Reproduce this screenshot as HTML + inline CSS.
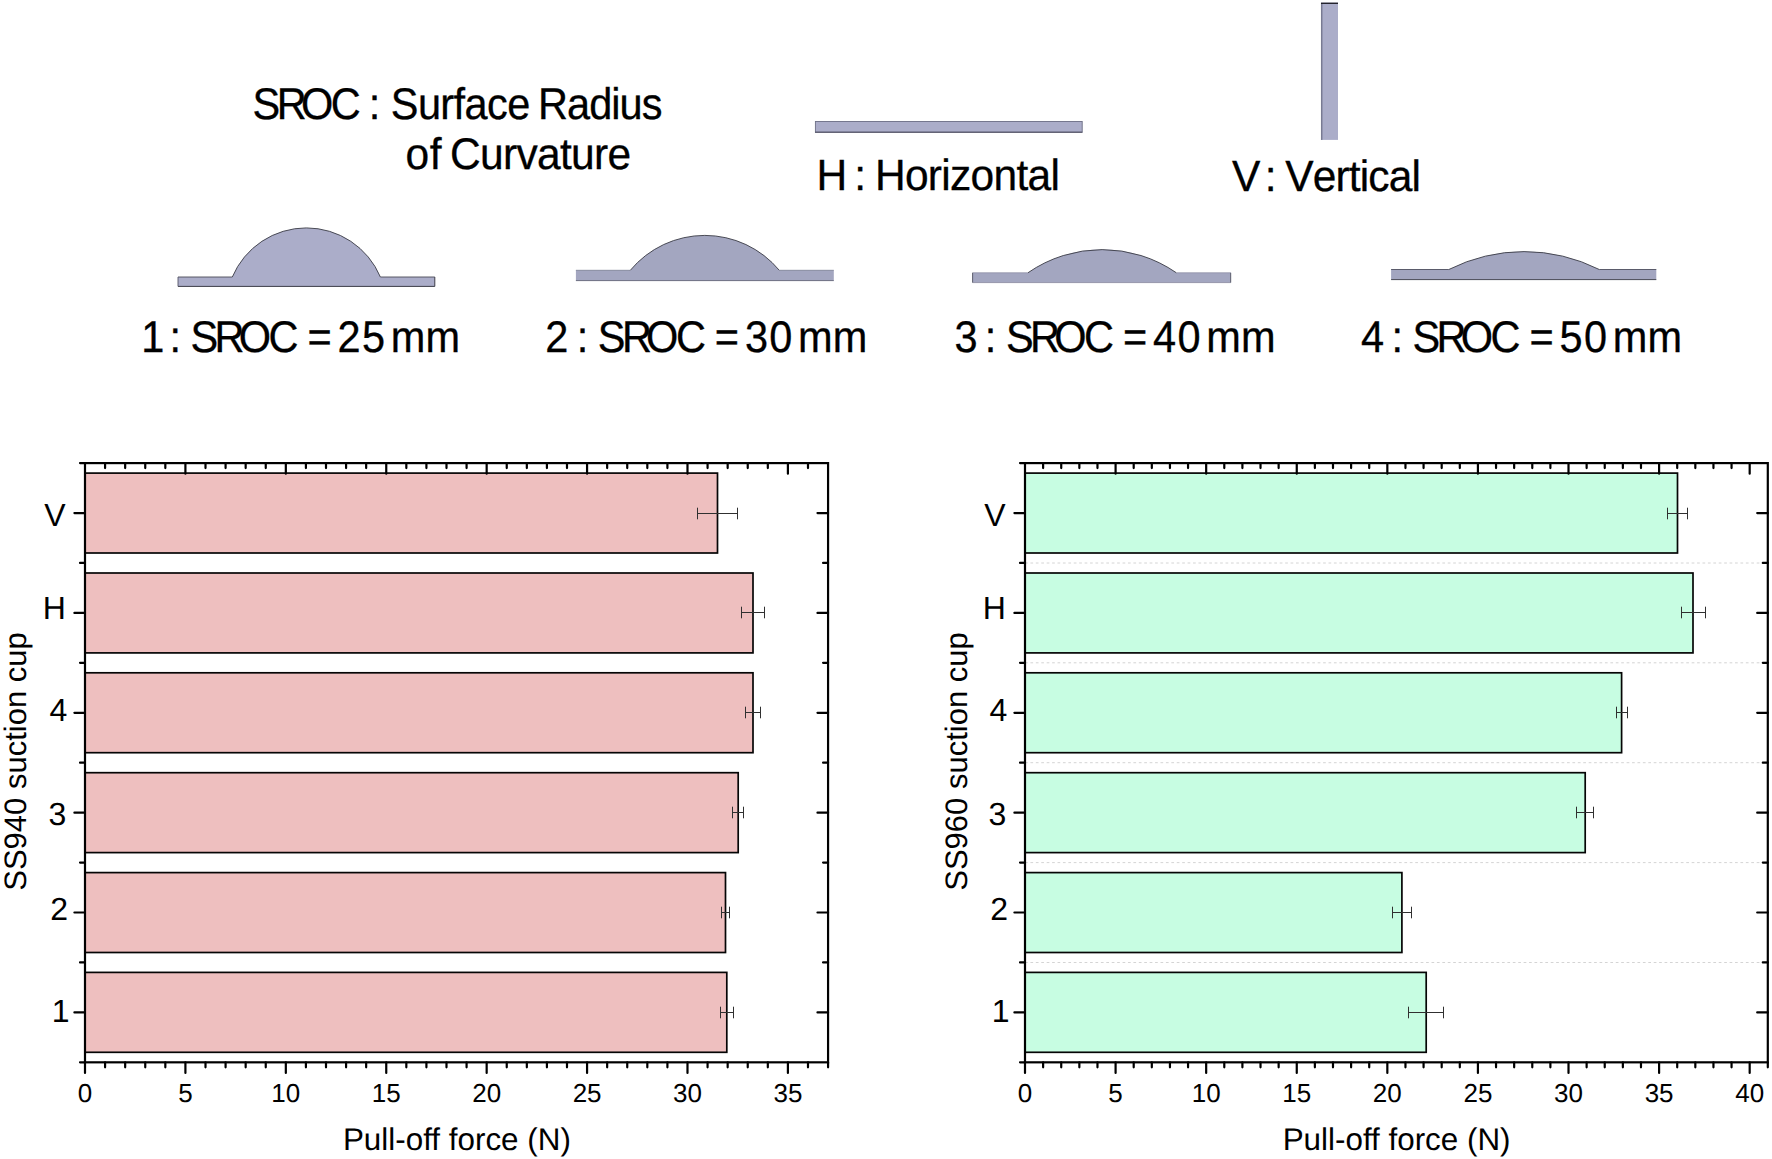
<!DOCTYPE html>
<html lang="en"><head><meta charset="utf-8"><title>Pull-off force of suction cups</title>
<style>
html,body{margin:0;padding:0;background:#fff;}
body{width:1772px;height:1159px;overflow:hidden;}
svg{display:block;}
text{font-family:"Liberation Sans", sans-serif;fill:#000;text-rendering:geometricPrecision;}
.ax{stroke:#000;stroke-width:2.2;fill:none;stroke-linecap:butt;}
.tk{stroke:#000;stroke-width:2.2;fill:none;stroke-linecap:round;}
.bar{stroke:#050505;stroke-width:1.7;}
.eb{stroke:#303030;stroke-width:1;fill:none;}
.gr{stroke:#cfcfcf;stroke-width:0.9;stroke-dasharray:2.7 2.72;fill:none;}
.sh{stroke:#454651;stroke-width:0.9;}
.top{font-kerning:none;white-space:pre;stroke:#000;stroke-width:0.3px;}
.yl{font-size:32px;text-anchor:end;}
.xl{font-size:26px;text-anchor:middle;}
.tt{font-size:31px;text-anchor:middle;}
</style></head><body>
<svg width="1772" height="1159" viewBox="0 0 1772 1159">
<rect x="0" y="0" width="1772" height="1159" fill="#ffffff"/>
<path d="M178.0 277.0 L232.3 277.0 A80.39 80.39 0 0 1 380.4 277.0 L434.8 277.0 L434.8 286.4 L178.0 286.4 Z" fill="#abadc9"/>
<path d="M232.3 277.0 A80.39 80.39 0 0 1 380.4 277.0" fill="none" stroke="#3a3b45" stroke-width="0.9"/>
<path d="M178.0 277.0 H232.3 M380.4 277.0 H434.8" fill="none" stroke="#4a4b58" stroke-width="0.9"/>
<path d="M178.0 286.4 H434.8" fill="none" stroke="#3c3d48" stroke-width="1.0"/>
<path d="M178.0 277.0 V286.4" fill="none" stroke="#55566a" stroke-width="0.9"/>
<path d="M434.8 277.0 V286.4" fill="none" stroke="#3c3d48" stroke-width="1.0"/>
<path d="M575.9 270.3 L630.3 270.3 A96.97 96.97 0 0 1 779.3 270.3 L833.8 270.3 L833.8 280.6 L575.9 280.6 Z" fill="#a3a6c0"/>
<path d="M630.3 270.3 A96.97 96.97 0 0 1 779.3 270.3" fill="none" stroke="#3a3b45" stroke-width="0.9"/>
<path d="M575.9 270.3 H630.3 M779.3 270.3 H833.8" fill="none" stroke="#7a7c92" stroke-width="0.8"/>
<path d="M575.9 280.6 H833.8" fill="none" stroke="#6c6e82" stroke-width="1.0"/>
<path d="M972.6 272.8 L1027.9 272.8 A130.42 130.42 0 0 1 1176.4 272.8 L1230.7 272.8 L1230.7 282.6 L972.6 282.6 Z" fill="#a3a6c0"/>
<path d="M1027.9 272.8 A130.42 130.42 0 0 1 1176.4 272.8" fill="none" stroke="#3a3b45" stroke-width="0.9"/>
<path d="M972.6 272.8 H1027.9 M1176.4 272.8 H1230.7" fill="none" stroke="#9092a7" stroke-width="0.8"/>
<path d="M972.6 282.6 H1230.7" fill="none" stroke="#85879c" stroke-width="0.8"/>
<path d="M972.6 272.8 V282.6" fill="none" stroke="#4e4f5e" stroke-width="0.9"/>
<path d="M1230.7 272.8 V282.6" fill="none" stroke="#4e4f5e" stroke-width="0.9"/>
<path d="M1391.1 269.5 L1448.8 269.5 A167.12 167.12 0 0 1 1599.3 269.5 L1656.3 269.5 L1656.3 279.6 L1391.1 279.6 Z" fill="#a3a6c0"/>
<path d="M1448.8 269.5 A167.12 167.12 0 0 1 1599.3 269.5" fill="none" stroke="#3a3b45" stroke-width="0.9"/>
<path d="M1391.1 269.5 H1448.8 M1599.3 269.5 H1656.3" fill="none" stroke="#5a5b6b" stroke-width="1.0"/>
<path d="M1391.1 279.6 H1656.3" fill="none" stroke="#474855" stroke-width="1.0"/>
<rect x="815.4" y="121.5" width="266.8" height="10.6" fill="#abadc9" stroke="#6c6e85" stroke-width="0.9"/>
<line x1="815.0" y1="132.2" x2="1082.4" y2="132.2" stroke="#4c4d5f" stroke-width="1.1"/>
<rect x="1321.0" y="2.6" width="17.0" height="137.3" fill="#abadc9"/>
<line x1="1321.7" y1="3" x2="1321.7" y2="139.9" stroke="#787a92" stroke-width="1.5"/>
<line x1="1321.0" y1="3.3" x2="1338.0" y2="3.3" stroke="#1c1c24" stroke-width="1.3"/>
<text class="top" transform="scale(1 1.0670)" style="font-size:41.5px" y="111.3"><tspan x="252.6 276.7 300.9 330.7">SROC</tspan> <tspan x="368.7">:</tspan> <tspan x="390.8" style="letter-spacing:-0.60px">Surface</tspan> <tspan x="538.0" style="letter-spacing:-0.96px">Radius</tspan></text>
<text class="top" transform="scale(1 1.0420)" style="font-size:42.5px" y="162.4"><tspan x="405.4" style="letter-spacing:0.78px">of</tspan> <tspan x="450.0" style="letter-spacing:-0.68px">Curvature</tspan></text>
<text class="top" transform="scale(1 1.0300)" style="font-size:42.5px" y="184.1"><tspan x="816.6">H</tspan> <tspan x="854.3">:</tspan> <tspan x="874.9" style="letter-spacing:-0.70px">Horizontal</tspan></text>
<text class="top" transform="scale(1 1.0300)" style="font-size:42.5px" y="185.3"><tspan x="1232.0">V</tspan> <tspan x="1264.7">:</tspan> <tspan x="1285.3" style="letter-spacing:-0.88px">Vertical</tspan></text>
<text class="top" transform="scale(1 1.0670)" style="font-size:41.5px" y="329.8"><tspan x="141.2">1</tspan> <tspan x="169.4">:</tspan> <tspan x="190.5 214.6 238.8 268.6">SROC</tspan> <tspan x="307.5">=</tspan> <tspan x="337.6 362.0">25</tspan> <tspan x="390.8" style="letter-spacing:0.15px">mm</tspan></text>
<text class="top" transform="scale(1 1.0670)" style="font-size:41.5px" y="329.8"><tspan x="545.3">2</tspan> <tspan x="576.7">:</tspan> <tspan x="597.8 621.9 646.1 675.9">SROC</tspan> <tspan x="714.8">=</tspan> <tspan x="744.9 769.3">30</tspan> <tspan x="798.1" style="letter-spacing:0.15px">mm</tspan></text>
<text class="top" transform="scale(1 1.0670)" style="font-size:41.5px" y="329.8"><tspan x="954.4">3</tspan> <tspan x="984.8">:</tspan> <tspan x="1005.9 1030.0 1054.2 1084.0">SROC</tspan> <tspan x="1122.9">=</tspan> <tspan x="1153.0 1177.4">40</tspan> <tspan x="1206.2" style="letter-spacing:0.15px">mm</tspan></text>
<text class="top" transform="scale(1 1.0670)" style="font-size:41.5px" y="329.8"><tspan x="1361.1">4</tspan> <tspan x="1391.4">:</tspan> <tspan x="1412.5 1436.6 1460.8 1490.6">SROC</tspan> <tspan x="1529.5">=</tspan> <tspan x="1559.6 1584.0">50</tspan> <tspan x="1612.8" style="letter-spacing:0.15px">mm</tspan></text>
<rect class="bar" x="85.0" y="972.4" width="641.8" height="79.9" fill="#eebfbf"/>
<rect class="bar" x="85.0" y="872.6" width="640.5" height="79.9" fill="#eebfbf"/>
<rect class="bar" x="85.0" y="772.7" width="653.2" height="79.9" fill="#eebfbf"/>
<rect class="bar" x="85.0" y="672.8" width="668.0" height="79.9" fill="#eebfbf"/>
<rect class="bar" x="85.0" y="573.0" width="668.0" height="79.9" fill="#eebfbf"/>
<rect class="bar" x="85.0" y="473.1" width="632.5" height="79.9" fill="#eebfbf"/>
<path class="eb" d="M720.5 1012.5 H733.5 M720.5 1006.7 V1018.3 M733.5 1006.7 V1018.3"/>
<path class="eb" d="M721.5 912.5 H729.5 M721.5 906.7 V918.3 M729.5 906.7 V918.3"/>
<path class="eb" d="M732.5 812.5 H743.5 M732.5 806.7 V818.3 M743.5 806.7 V818.3"/>
<path class="eb" d="M745.5 712.5 H760.5 M745.5 706.7 V718.3 M760.5 706.7 V718.3"/>
<path class="eb" d="M741.5 612.5 H764.5 M741.5 606.7 V618.3 M764.5 606.7 V618.3"/>
<path class="eb" d="M697.5 513.5 H737.5 M697.5 507.7 V519.3 M737.5 507.7 V519.3"/>
<path class="tk" d="M85.00 1062.32 v10.6 M105.08 463.10 v5.0 M105.08 1062.32 v5.0 M125.17 463.10 v5.0 M125.17 1062.32 v5.0 M145.25 463.10 v5.0 M145.25 1062.32 v5.0 M165.33 463.10 v5.0 M165.33 1062.32 v5.0 M185.41 463.10 v10.6 M185.41 1062.32 v10.6 M205.50 463.10 v5.0 M205.50 1062.32 v5.0 M225.58 463.10 v5.0 M225.58 1062.32 v5.0 M245.66 463.10 v5.0 M245.66 1062.32 v5.0 M265.75 463.10 v5.0 M265.75 1062.32 v5.0 M285.83 463.10 v10.6 M285.83 1062.32 v10.6 M305.91 463.10 v5.0 M305.91 1062.32 v5.0 M326.00 463.10 v5.0 M326.00 1062.32 v5.0 M346.08 463.10 v5.0 M346.08 1062.32 v5.0 M366.16 463.10 v5.0 M366.16 1062.32 v5.0 M386.25 463.10 v10.6 M386.25 1062.32 v10.6 M406.33 463.10 v5.0 M406.33 1062.32 v5.0 M426.41 463.10 v5.0 M426.41 1062.32 v5.0 M446.49 463.10 v5.0 M446.49 1062.32 v5.0 M466.58 463.10 v5.0 M466.58 1062.32 v5.0 M486.66 463.10 v10.6 M486.66 1062.32 v10.6 M506.74 463.10 v5.0 M506.74 1062.32 v5.0 M526.83 463.10 v5.0 M526.83 1062.32 v5.0 M546.91 463.10 v5.0 M546.91 1062.32 v5.0 M566.99 463.10 v5.0 M566.99 1062.32 v5.0 M587.07 463.10 v10.6 M587.07 1062.32 v10.6 M607.16 463.10 v5.0 M607.16 1062.32 v5.0 M627.24 463.10 v5.0 M627.24 1062.32 v5.0 M647.32 463.10 v5.0 M647.32 1062.32 v5.0 M667.41 463.10 v5.0 M667.41 1062.32 v5.0 M687.49 463.10 v10.6 M687.49 1062.32 v10.6 M707.57 463.10 v5.0 M707.57 1062.32 v5.0 M727.66 463.10 v5.0 M727.66 1062.32 v5.0 M747.74 463.10 v5.0 M747.74 1062.32 v5.0 M767.82 463.10 v5.0 M767.82 1062.32 v5.0 M787.90 463.10 v10.6 M787.90 1062.32 v10.6 M807.99 463.10 v5.0 M807.99 1062.32 v5.0 M828.07 1062.32 v5.0 M85.00 1062.32 h-5.0 M85.00 1012.39 h-10.6 M828.07 1012.39 h-10.6 M85.00 962.45 h-5.0 M828.07 962.45 h-5.0 M85.00 912.52 h-10.6 M828.07 912.52 h-10.6 M85.00 862.58 h-5.0 M828.07 862.58 h-5.0 M85.00 812.64 h-10.6 M828.07 812.64 h-10.6 M85.00 762.71 h-5.0 M828.07 762.71 h-5.0 M85.00 712.78 h-10.6 M828.07 712.78 h-10.6 M85.00 662.84 h-5.0 M828.07 662.84 h-5.0 M85.00 612.90 h-10.6 M828.07 612.90 h-10.6 M85.00 562.97 h-5.0 M828.07 562.97 h-5.0 M85.00 513.04 h-10.6 M828.07 513.04 h-10.6 M85.00 463.10 h-5.0"/>
<rect class="ax" x="85.00" y="463.10" width="743.07" height="599.22"/>
<text class="yl" x="69.5" y="1021.7">1</text>
<text class="yl" x="68.0" y="920.1">2</text>
<text class="yl" x="66.3" y="824.9">3</text>
<text class="yl" x="67.4" y="720.8">4</text>
<text class="yl" x="65.9" y="618.9">H</text>
<text class="yl" x="65.5" y="525.7">V</text>
<text class="xl" x="85.0" y="1102.2">0</text>
<text class="xl" x="185.4" y="1102.2">5</text>
<text class="xl" x="285.8" y="1102.2">10</text>
<text class="xl" x="386.2" y="1102.2">15</text>
<text class="xl" x="486.7" y="1102.2">20</text>
<text class="xl" x="587.1" y="1102.2">25</text>
<text class="xl" x="687.5" y="1102.2">30</text>
<text class="xl" x="787.9" y="1102.2">35</text>
<text class="tt" style="font-size:31.4px" x="456.9" y="1149.6">Pull-off force (N)</text>
<text class="tt" transform="translate(26.2 761.5) rotate(-90)">SS940 suction cup</text>
<line class="gr" x1="1025.0" y1="962.5" x2="1767.8" y2="962.5"/>
<line class="gr" x1="1025.0" y1="862.6" x2="1767.8" y2="862.6"/>
<line class="gr" x1="1025.0" y1="762.7" x2="1767.8" y2="762.7"/>
<line class="gr" x1="1025.0" y1="662.8" x2="1767.8" y2="662.8"/>
<line class="gr" x1="1025.0" y1="563.0" x2="1767.8" y2="563.0"/>
<rect class="bar" x="1025.0" y="972.4" width="401.2" height="79.9" fill="#c7fde2"/>
<rect class="bar" x="1025.0" y="872.6" width="376.9" height="79.9" fill="#c7fde2"/>
<rect class="bar" x="1025.0" y="772.7" width="560.2" height="79.9" fill="#c7fde2"/>
<rect class="bar" x="1025.0" y="672.8" width="596.6" height="79.9" fill="#c7fde2"/>
<rect class="bar" x="1025.0" y="573.0" width="668.0" height="79.9" fill="#c7fde2"/>
<rect class="bar" x="1025.0" y="473.1" width="652.5" height="79.9" fill="#c7fde2"/>
<path class="eb" d="M1408.5 1012.5 H1443.5 M1408.5 1006.7 V1018.3 M1443.5 1006.7 V1018.3"/>
<path class="eb" d="M1392.5 912.5 H1411.5 M1392.5 906.7 V918.3 M1411.5 906.7 V918.3"/>
<path class="eb" d="M1576.5 812.5 H1593.5 M1576.5 806.7 V818.3 M1593.5 806.7 V818.3"/>
<path class="eb" d="M1616.5 712.5 H1627.5 M1616.5 706.7 V718.3 M1627.5 706.7 V718.3"/>
<path class="eb" d="M1681.5 612.5 H1705.5 M1681.5 606.7 V618.3 M1705.5 606.7 V618.3"/>
<path class="eb" d="M1667.5 513.5 H1687.5 M1667.5 507.7 V519.3 M1687.5 507.7 V519.3"/>
<path class="tk" d="M1025.00 1062.32 v10.6 M1043.12 463.10 v5.0 M1043.12 1062.32 v5.0 M1061.23 463.10 v5.0 M1061.23 1062.32 v5.0 M1079.35 463.10 v5.0 M1079.35 1062.32 v5.0 M1097.47 463.10 v5.0 M1097.47 1062.32 v5.0 M1115.59 463.10 v10.6 M1115.59 1062.32 v10.6 M1133.70 463.10 v5.0 M1133.70 1062.32 v5.0 M1151.82 463.10 v5.0 M1151.82 1062.32 v5.0 M1169.94 463.10 v5.0 M1169.94 1062.32 v5.0 M1188.05 463.10 v5.0 M1188.05 1062.32 v5.0 M1206.17 463.10 v10.6 M1206.17 1062.32 v10.6 M1224.29 463.10 v5.0 M1224.29 1062.32 v5.0 M1242.40 463.10 v5.0 M1242.40 1062.32 v5.0 M1260.52 463.10 v5.0 M1260.52 1062.32 v5.0 M1278.64 463.10 v5.0 M1278.64 1062.32 v5.0 M1296.76 463.10 v10.6 M1296.76 1062.32 v10.6 M1314.87 463.10 v5.0 M1314.87 1062.32 v5.0 M1332.99 463.10 v5.0 M1332.99 1062.32 v5.0 M1351.11 463.10 v5.0 M1351.11 1062.32 v5.0 M1369.22 463.10 v5.0 M1369.22 1062.32 v5.0 M1387.34 463.10 v10.6 M1387.34 1062.32 v10.6 M1405.46 463.10 v5.0 M1405.46 1062.32 v5.0 M1423.57 463.10 v5.0 M1423.57 1062.32 v5.0 M1441.69 463.10 v5.0 M1441.69 1062.32 v5.0 M1459.81 463.10 v5.0 M1459.81 1062.32 v5.0 M1477.92 463.10 v10.6 M1477.92 1062.32 v10.6 M1496.04 463.10 v5.0 M1496.04 1062.32 v5.0 M1514.16 463.10 v5.0 M1514.16 1062.32 v5.0 M1532.28 463.10 v5.0 M1532.28 1062.32 v5.0 M1550.39 463.10 v5.0 M1550.39 1062.32 v5.0 M1568.51 463.10 v10.6 M1568.51 1062.32 v10.6 M1586.63 463.10 v5.0 M1586.63 1062.32 v5.0 M1604.74 463.10 v5.0 M1604.74 1062.32 v5.0 M1622.86 463.10 v5.0 M1622.86 1062.32 v5.0 M1640.98 463.10 v5.0 M1640.98 1062.32 v5.0 M1659.10 463.10 v10.6 M1659.10 1062.32 v10.6 M1677.21 463.10 v5.0 M1677.21 1062.32 v5.0 M1695.33 463.10 v5.0 M1695.33 1062.32 v5.0 M1713.45 463.10 v5.0 M1713.45 1062.32 v5.0 M1731.56 463.10 v5.0 M1731.56 1062.32 v5.0 M1749.68 463.10 v10.6 M1749.68 1062.32 v10.6 M1767.80 1062.32 v5.0 M1025.00 1062.32 h-5.0 M1025.00 1012.39 h-10.6 M1767.80 1012.39 h-10.6 M1025.00 962.45 h-5.0 M1767.80 962.45 h-5.0 M1025.00 912.52 h-10.6 M1767.80 912.52 h-10.6 M1025.00 862.58 h-5.0 M1767.80 862.58 h-5.0 M1025.00 812.64 h-10.6 M1767.80 812.64 h-10.6 M1025.00 762.71 h-5.0 M1767.80 762.71 h-5.0 M1025.00 712.78 h-10.6 M1767.80 712.78 h-10.6 M1025.00 662.84 h-5.0 M1767.80 662.84 h-5.0 M1025.00 612.90 h-10.6 M1767.80 612.90 h-10.6 M1025.00 562.97 h-5.0 M1767.80 562.97 h-5.0 M1025.00 513.04 h-10.6 M1767.80 513.04 h-10.6 M1025.00 463.10 h-5.0"/>
<rect class="ax" x="1025.00" y="463.10" width="742.80" height="599.22"/>
<text class="yl" x="1009.5" y="1021.7">1</text>
<text class="yl" x="1008.0" y="920.1">2</text>
<text class="yl" x="1006.3" y="824.9">3</text>
<text class="yl" x="1007.4" y="720.8">4</text>
<text class="yl" x="1005.9" y="618.9">H</text>
<text class="yl" x="1005.5" y="525.7">V</text>
<text class="xl" x="1025.0" y="1102.2">0</text>
<text class="xl" x="1115.6" y="1102.2">5</text>
<text class="xl" x="1206.2" y="1102.2">10</text>
<text class="xl" x="1296.8" y="1102.2">15</text>
<text class="xl" x="1387.3" y="1102.2">20</text>
<text class="xl" x="1477.9" y="1102.2">25</text>
<text class="xl" x="1568.5" y="1102.2">30</text>
<text class="xl" x="1659.1" y="1102.2">35</text>
<text class="xl" x="1749.7" y="1102.2">40</text>
<text class="tt" style="font-size:31.4px" x="1396.6" y="1149.6">Pull-off force (N)</text>
<text class="tt" transform="translate(967.2 761.5) rotate(-90)">SS960 suction cup</text>
</svg>
</body></html>
